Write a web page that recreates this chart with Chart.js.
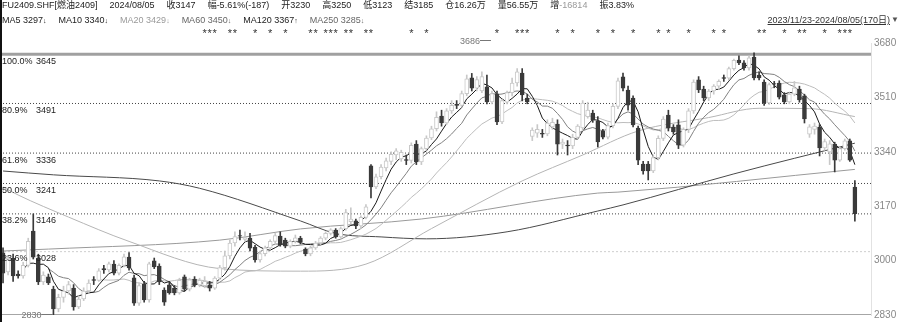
<!DOCTYPE html>
<html>
<head>
<meta charset="utf-8">
<script src="https://cdn.jsdelivr.net/npm/chart.js@4.4.1/dist/chart.umd.min.js"></script>
<style>
  body { margin: 0; background: #fff; }
  #wrap { position: relative; width: 900px; height: 322px; overflow: hidden;
          font-family: "Liberation Sans", "Noto Sans CJK SC", sans-serif; }
  #wrap canvas { position: absolute; left: 0; top: 0; }
  .hd { position: absolute; left: 2px; font-size: 9px; line-height: 10px; white-space: nowrap; color: #222; }
  .hd span { margin-right: 12px; }
  .lt { color: #999; }
  .md { color: #666; }
  .ar { font-size: 7px; }
  #range { position: absolute; right: 10px; top: 15px; font-size: 9px; line-height: 10px;
           color: #333; text-decoration: underline; }
  #tri { position: absolute; right: 1px; top: 15px; font-size: 8px; line-height: 10px; color: #555; }
  #edge { position: absolute; left: 0; top: 0; width: 2px; height: 322px; background: #111; }
</style>
</head>
<body>
<div id="wrap">
  <canvas id="kChart" width="900" height="322"></canvas>
  <div class="hd" style="top:0px">
    <span>FU2409.SHF[燃油2409]</span><span>2024/08/05</span><span>收3147</span><span>幅-5.61%(-187)</span><span>开3230</span><span>高3250</span><span>低3123</span><span>结3185</span><span>仓16.26万</span><span>量56.55万</span><span>增<span class="lt" style="margin:0">-16814</span></span><span>振3.83%</span>
  </div>
  <div class="hd" style="top:15px">
    <span>MA5 3297<b class="ar">↓</b></span><span>MA10 3340<b class="ar">↓</b></span><span class="lt">MA20 3429<b class="ar">↓</b></span><span class="md">MA60 3450<b class="ar">↓</b></span><span>MA120 3367<b class="ar">↑</b></span><span class="md">MA250 3285<b class="ar">↓</b></span>
  </div>
  <div id="range">2023/11/23-2024/08/05(170日)</div>
  <div id="tri">▼</div>
  <div id="edge"></div>
</div>
<script>
// 日K数据 2023/11/23 - 2024/08/05，共170个交易日
const opens = [3024,2965,3008,2958,2952,2985,3092,3008,2933,2949,
  2911,2849,2885,2905,2914,2855,2880,2905,2941,2938,
  2975,2971,2989,2961,2985,3011,2946,2867,2927,2877,
  2999,2983,2908,2924,2914,2899,2949,2911,2942,2924,
  2922,2924,2914,2945,2978,3015,3055,3078,3066,3070,
  3042,3002,3022,3040,3060,3077,3064,3045,3060,3070,
  3036,3021,3040,3055,3070,3085,3095,3074,3100,3122,
  3124,3108,3135,3296,3230,3262,3290,3310,3330,3318,
  3316,3313,3364,3308,3350,3383,3412,3452,3430,3468,
  3488,3485,3522,3571,3539,3530,3543,3496,3521,3433,
  3495,3525,3555,3586,3508,3388,3398,3398,3396,3418,
  3427,3364,3361,3358,3385,3415,3450,3461,3436,3405,
  3386,3422,3482,3574,3533,3508,3414,3302,3302,3280,
  3322,3382,3455,3417,3424,3361,3410,3468,3565,3536,
  3508,3530,3545,3572,3570,3600,3627,3618,3602,3636,
  3580,3558,3493,3553,3555,3518,3496,3520,3536,3515,
  3395,3410,3417,3352,3340,3364,3314,3350,3374,3230];
const highs = [3040,3015,3020,2968,2995,3070,3146,3020,2965,2958,
  2920,2895,2920,2935,2925,2890,2915,2940,2950,2975,
  2985,2995,3000,2990,3020,3025,2955,2930,2935,2995,
  3008,2990,2915,2935,2922,2945,2955,2945,2950,2945,
  2950,2935,2950,2985,3030,3065,3090,3095,3090,3085,
  3048,3030,3045,3065,3085,3090,3070,3065,3080,3076,
  3040,3045,3060,3075,3090,3100,3100,3105,3160,3165,
  3130,3140,3175,3300,3270,3300,3320,3340,3350,3345,
  3330,3368,3375,3355,3390,3420,3465,3470,3475,3500,
  3500,3530,3580,3585,3575,3590,3580,3530,3530,3505,
  3530,3570,3600,3600,3520,3415,3425,3410,3440,3445,
  3440,3380,3375,3395,3425,3500,3495,3470,3450,3410,
  3430,3490,3570,3586,3545,3515,3420,3310,3310,3330,
  3390,3450,3470,3425,3440,3415,3475,3565,3575,3545,
  3535,3550,3565,3580,3605,3630,3640,3625,3640,3649,
  3590,3565,3555,3560,3562,3525,3525,3560,3545,3520,
  3425,3430,3425,3380,3375,3370,3355,3380,3380,3250];
const lows = [2930,2955,2935,2945,2945,2980,3005,2925,2925,2925,
  2830,2840,2870,2895,2845,2850,2875,2900,2925,2935,
  2960,2965,2955,2955,2980,2970,2860,2860,2870,2870,
  2975,2925,2860,2895,2893,2895,2905,2905,2918,2918,
  2915,2905,2910,2940,2970,3005,3045,3065,3060,3030,
  2995,2995,3015,3035,3055,3045,3040,3040,3055,3052,
  3015,3015,3035,3050,3065,3080,3070,3070,3095,3115,
  3100,3100,3130,3196,3225,3255,3280,3300,3315,3310,
  3300,3305,3300,3300,3345,3378,3405,3420,3425,3460,
  3475,3480,3515,3530,3530,3525,3490,3490,3425,3428,
  3490,3515,3545,3499,3490,3375,3385,3385,3390,3410,
  3330,3350,3330,3350,3380,3405,3445,3432,3355,3380,
  3380,3415,3475,3530,3470,3418,3300,3270,3252,3275,
  3315,3375,3405,3395,3350,3355,3400,3460,3525,3500,
  3500,3520,3535,3560,3565,3595,3612,3595,3595,3565,
  3565,3485,3488,3540,3505,3490,3490,3515,3495,3430,
  3385,3395,3327,3345,3300,3277,3310,3345,3310,3123];
const closes = [2961,3008,2952,2952,2985,3060,3011,2933,2955,2930,
  2849,2885,2905,2925,2855,2880,2905,2930,2938,2968,
  2971,2990,2961,2985,3012,2977,2867,2922,2877,2990,
  2980,2933,2870,2899,2899,2938,2911,2940,2924,2938,
  2935,2914,2945,2978,3015,3055,3075,3076,3072,3039,
  3002,3022,3040,3060,3078,3049,3045,3060,3071,3058,
  3021,3040,3055,3070,3085,3096,3074,3100,3150,3130,
  3108,3135,3168,3230,3262,3292,3312,3332,3343,3338,
  3313,3360,3308,3350,3383,3412,3448,3430,3468,3485,
  3485,3522,3568,3539,3566,3575,3496,3522,3433,3500,
  3525,3555,3590,3518,3496,3408,3410,3395,3430,3432,
  3364,3370,3358,3385,3420,3492,3470,3439,3371,3386,
  3422,3482,3562,3539,3486,3424,3314,3280,3280,3322,
  3382,3442,3414,3402,3361,3410,3468,3558,3533,3508,
  3530,3545,3560,3569,3600,3626,3618,3602,3634,3571,
  3571,3493,3550,3551,3511,3496,3520,3540,3502,3443,
  3418,3420,3352,3372,3365,3314,3350,3374,3314,3147];

// 长周期均线（需要区间前的数据，按图读取的点）
const ma60Days  = [0, 3, 13, 25, 43, 59, 72, 85, 103, 115, 126, 140, 150, 160, 169];
const ma60Vals  = [3230, 3205, 3136, 3060, 2975, 2967, 2989, 3100, 3249, 3330, 3405, 3447, 3476, 3475, 3450];
const ma120Days = [0, 10, 31, 39, 59, 66, 75, 84, 100, 118, 123, 145, 169];
const ma120Vals = [3280, 3268, 3249, 3226, 3124, 3085, 3074, 3068, 3090, 3155, 3174, 3271, 3367];
const ma250Days = [0, 9, 43, 59, 83, 118, 122, 169];
const ma250Vals = [3030, 3036, 3064, 3099, 3130, 3211, 3214, 3285];

// 黄金分割线
const fibPct    = ['100.0%', '80.9%', '61.8%', '50.0%', '38.2%', '23.6%'];
const fibLevels = [3645, 3491, 3336, 3241, 3146, 3028];

// 星号标记的交易日
const starDays = [40,41,42,45,46,50,53,56,61,62,64,65,66,68,69,72,73,81,84,
  98,102,103,104,110,113,118,121,125,130,132,136,141,143,150,151,155,158,159,163,166,167,168];

const lowMark  = { day: 10, value: 2830 };
const highMark = { day: 97, value: 3686 };

const X_MIN = -0.6, X_MAX = 172.2;
const DARK = '#3a3a3a', LIGHT = '#c8c8c8';

function movingAvg(src, n) {
  return src.map((v, i) => i < n - 1 ? null :
    src.slice(i - n + 1, i + 1).reduce((a, b) => a + b, 0) / n);
}

const isDown = closes.map((c, i) => c < opens[i]);
const toXY = arr => arr.map((v, i) => ({ x: i, y: v }));
const sparse = (days, vals) => days.map((d, k) => ({ x: d, y: vals[k] }));

function maLine(data, color, cubic) {
  return {
    type: 'line', data, borderColor: color, borderWidth: 1, pointRadius: 0,
    cubicInterpolationMode: cubic ? 'monotone' : 'default', spanGaps: false, order: 3
  };
}
function hLine(level, color, width, dash) {
  return {
    type: 'line', data: [{ x: X_MIN, y: level }, { x: X_MAX, y: level }],
    borderColor: color, borderWidth: width, borderDash: dash, pointRadius: 0, order: 5
  };
}

const overlay = {
  id: 'overlay',
  afterDatasetsDraw(chart) {
    const { ctx, scales: { x, y } } = chart;
    ctx.save();
    ctx.font = '9px "Liberation Sans", sans-serif';
    ctx.textBaseline = 'middle';
    ctx.fillStyle = '#222';
    fibLevels.forEach((lv, k) => {
      const py = y.getPixelForValue(lv) + 7;
      ctx.fillText(fibPct[k], 2, py);
      ctx.fillText(String(lv), 36, py);
    });
    // 星号
    ctx.font = '11px "Liberation Sans", sans-serif';
    ctx.fillStyle = '#333';
    ctx.textAlign = 'center';
    starDays.forEach(d => ctx.fillText('*', x.getPixelForValue(d), 34));
    // 最低/最高价标注
    ctx.font = '9px "Liberation Sans", sans-serif';
    ctx.strokeStyle = '#777';
    ctx.fillStyle = '#777';
    ctx.lineWidth = 1;
    [lowMark, highMark].forEach(m => {
      const px = x.getPixelForValue(m.day), py = Math.round(y.getPixelForValue(m.value)) - 0.5;
      ctx.beginPath();
      ctx.moveTo(px - 12, py);
      ctx.lineTo(px - 1, py);
      ctx.stroke();
      ctx.textAlign = 'right';
      ctx.fillText(String(m.value), px - 12, py + 1);
    });
    ctx.restore();
  }
};

const ctx = document.getElementById('kChart').getContext('2d');
const kChart = new Chart(ctx, {
  type: 'bar',
  data: {
    datasets: [
      {
        // 实体
        data: closes.map((c, i) => ({ x: i, y: [opens[i], c] })),
        backgroundColor: isDown.map(d => d ? DARK : '#fff'),
        borderColor: isDown.map(d => d ? DARK : LIGHT),
        borderWidth: 1, borderSkipped: false, barThickness: 4,
        grouped: false, order: 1
      },
      {
        // 影线
        data: closes.map((c, i) => ({ x: i, y: [lows[i], highs[i]] })),
        backgroundColor: isDown.map(d => d ? DARK : LIGHT),
        borderWidth: 0, barThickness: 1, grouped: false, order: 2
      },
      maLine(toXY(movingAvg(closes, 5)), '#1a1a1a', false),
      maLine(toXY(movingAvg(closes, 10)), '#808080', false),
      maLine(toXY(movingAvg(closes, 20)), '#bdbdbd', false),
      maLine(sparse(ma60Days, ma60Vals), '#b5b5b5', true),
      maLine(sparse(ma120Days, ma120Vals), '#4a4a4a', true),
      maLine(sparse(ma250Days, ma250Vals), '#9a9a9a', true),
      hLine(fibLevels[0], '#a0a0a0', 3, []),
      hLine(fibLevels[1], '#444', 1, [1, 2]),
      hLine(fibLevels[2], '#444', 1, [1, 2]),
      hLine(fibLevels[3], '#444', 1, [1, 2]),
      hLine(fibLevels[4], '#444', 1, [1, 2]),
      hLine(fibLevels[5], '#cfcfcf', 1, [2, 2]),
      hLine(2830, '#888', 1.5, [])
    ]
  },
  options: {
    responsive: false,
    animation: false,
    layout: { padding: { top: 43, bottom: 7, left: 0, right: 0 } },
    plugins: { legend: { display: false }, tooltip: { enabled: false } },
    scales: {
      x: { type: 'linear', min: X_MIN, max: X_MAX, offset: false, display: false },
      y: {
        position: 'right', min: 2830, max: 3680,
        ticks: {
          stepSize: 170, color: '#888', padding: 3,
          font: { size: 10, family: '"Liberation Sans", sans-serif' },
          callback: v => String(v)
        },
        grid: { display: false, drawTicks: false },
        border: { color: '#e2e2e2' },
        afterFit(scale) { scale.width = 29; scale.paddingTop = 0; scale.paddingBottom = 0; }
      }
    }
  },
  plugins: [overlay]
});
</script>
</body>
</html>
